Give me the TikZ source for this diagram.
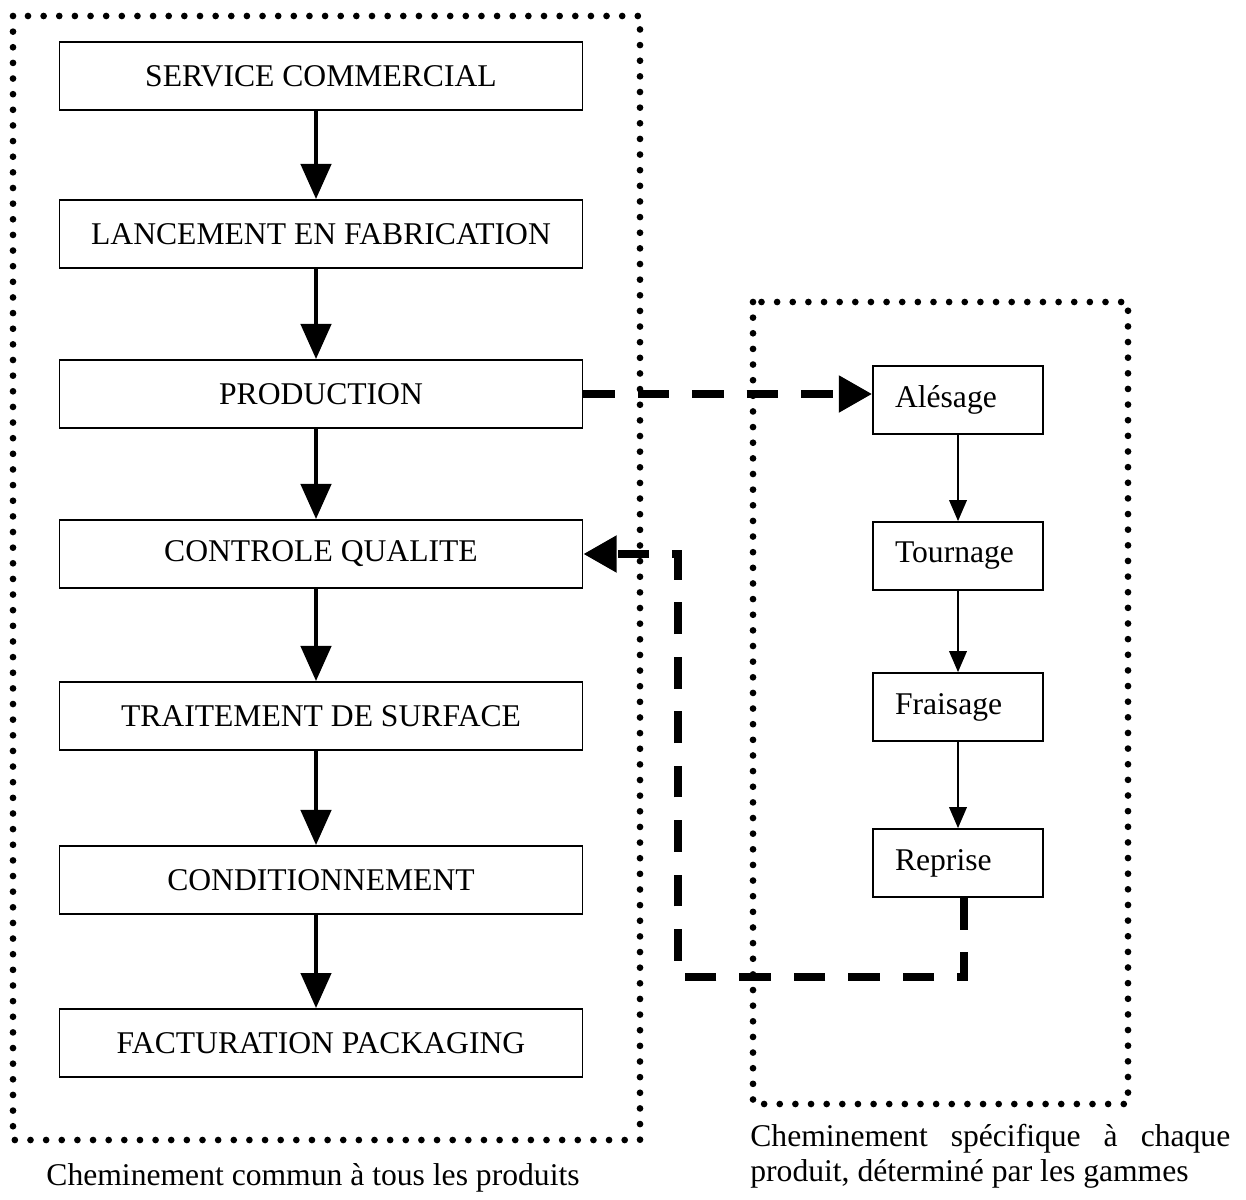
\documentclass[tikz,border=0pt]{standalone}
\usepackage{fontspec}
\setmainfont{Liberation Serif}
\usetikzlibrary{arrows.meta}
\usetikzlibrary{positioning}

\tikzset{
  etape/.style={draw,line width=1pt,minimum width=10.46cm,minimum height=1.36cm,inner sep=0pt},
  gamme/.style={draw,line width=1pt,minimum width=3.4cm,minimum height=1.36cm,text width=2.52cm,inner xsep=0.44cm,align=left},
  cadre/.style={line width=3.8pt,dash pattern=on 0pt off 8.9pt,line cap=round},
  grosse/.style={line width=2.8pt,-{Triangle[width=17pt,length=20pt]}},
  fine/.style={line width=1.1pt,-{Triangle[width=10pt,length=12pt]}},
  retour/.style={line width=4.5pt,dash pattern=on 18pt off 13pt,-{Triangle[width=20pt,length=19pt]}}
}

\begin{document}
\begin{tikzpicture}[x=0.02cm,y=-0.02cm,font=\fontsize{18}{20}\selectfont]
  \useasboundingbox (0,0) rectangle (1246,1199);

  % common path
  \draw[cadre] (13,16) rectangle (640,1140);
  \node[etape] at (321,76) (sc) {SERVICE COMMERCIAL};
  \node[etape] at (321,234) (lf) {LANCEMENT EN FABRICATION};
  \node[etape] at (321,394) (prod) {PRODUCTION};
  \node[etape] at (321,554) (cq) {CONTROLE QUALITE};
  \node[etape] at (321,716) (ts) {TRAITEMENT DE SURFACE};
  \node[etape] at (321,880) (cond) {CONDITIONNEMENT};
  \node[etape] at (321,1043) (fp) {FACTURATION PACKAGING};
  \node at (313,1178) (legcommun) {Cheminement commun à tous les produits};

\foreach \a/\b in {sc/lf,lf/prod,prod/cq,cq/ts,ts/cond,cond/fp}
  \draw[grosse] ([xshift=-1mm]\a.south) -- ([xshift=-1mm]\b.north);

  % specific path
  \draw[cadre] (753,302) rectangle (1128,1104);
  \node[gamme] at (958,400) (ales) {Alésage};
  \node[gamme] at (958,556) (tour) {Tournage};
  \node[gamme] at (958,707) (frai) {Fraisage};
  \node[gamme] at (958,863) (repr) {Reprise};
  \node[anchor=north west,text width=9.6cm,align=justify,inner sep=0pt] at (750,1124) (legspec)
    {Cheminement spécifique à chaque\linebreak produit, déterminé par les gammes};

\foreach \a/\b in {ales/tour,tour/frai,frai/repr}
  \draw[fine] (\a.south) -- (\b.north);

% out to the machining and back
\coordinate (coin) at (678,977);
\draw[retour] (prod.east) -- (prod.east -| ales.west);
\draw[retour] ([xshift=1.2mm]repr.south) |- (coin) |- (cq.east);

\end{tikzpicture}
\end{document}
